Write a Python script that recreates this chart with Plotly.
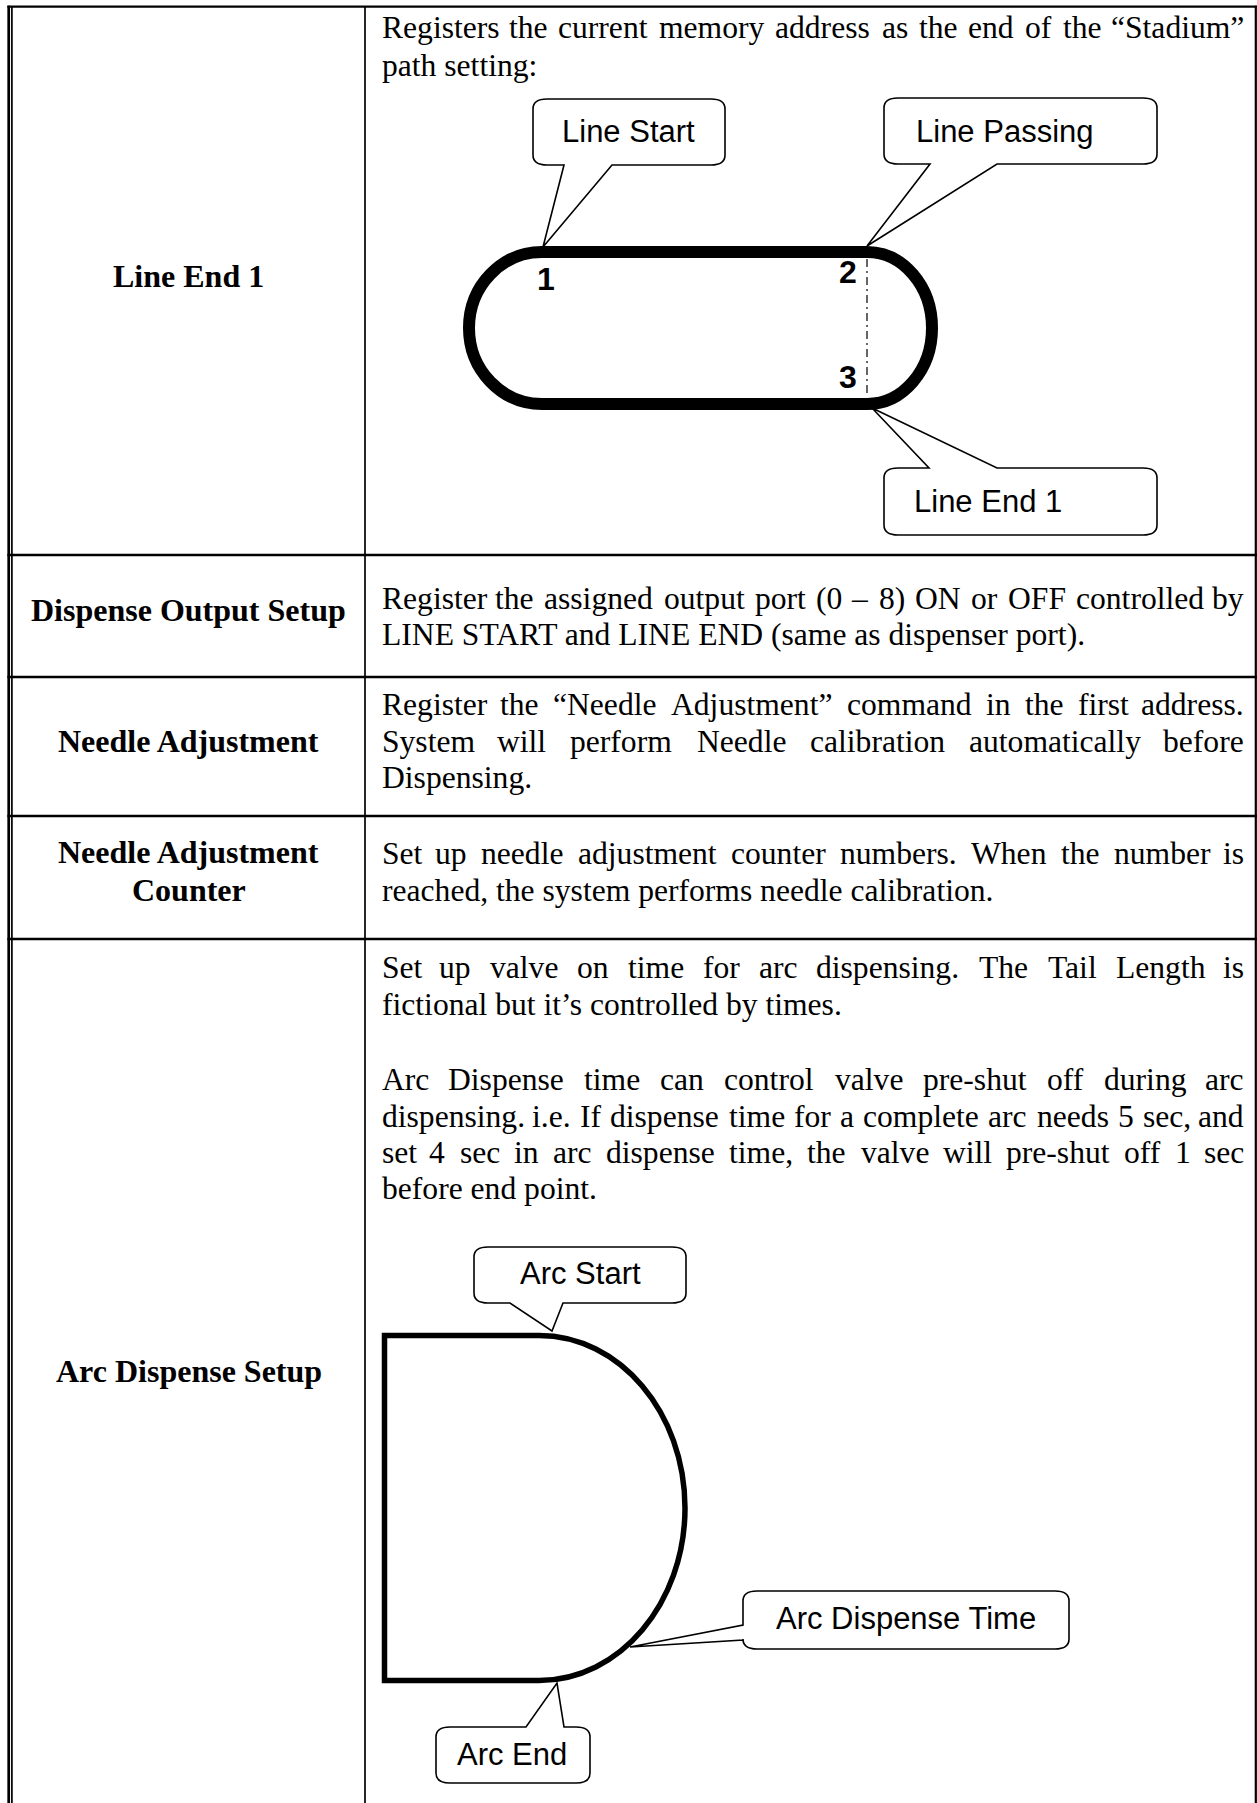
import plotly.graph_objects as go

# ---------------- content (text data) ----------------
ROW_LABELS = [["Line End 1"], ["Dispense Output Setup"], ["Needle Adjustment"],
              ["Needle Adjustment", "Counter"], ["Arc Dispense Setup"]]
ROW_TEXT = [
    ["Registers the current memory address as the end of the \u201cStadium\u201d",
     "path setting:"],
    ["Register the assigned output port (0 \u2013 8) ON or OFF controlled by",
     "LINE START and LINE END (same as dispenser port)."],
    ["Register the \u201cNeedle Adjustment\u201d command in the first address.",
     "System will perform Needle calibration automatically before",
     "Dispensing."],
    ["Set up needle adjustment counter numbers. When the number is",
     "reached, the system performs needle calibration."],
    ["Set up valve on time for arc dispensing. The Tail Length is",
     "fictional but it\u2019s controlled by times.",
     "Arc Dispense time can control valve pre-shut off during arc",
     "dispensing. i.e. If dispense time for a complete arc needs 5 sec, and",
     "set 4 sec in arc dispense time, the valve will pre-shut off 1 sec",
     "before end point."],
]
ROW_JUSTIFY = [[True, False], [True, False], [True, True, False], [True, False],
               [True, False, True, True, True, False]]
STADIUM_CALLOUTS = ["Line Start", "Line Passing", "Line End 1"]
STADIUM_POINTS = ["1", "2", "3"]
ARC_CALLOUTS = ["Arc Start", "Arc Dispense Time", "Arc End"]

# ---------------- layout constants (pixels) ----------------
W, H = 1257, 1803
ROW_EDGES = [6.7, 555, 677, 816, 939]
TEXT_BASELINES = [[38, 76], [609, 645], [715, 752, 788], [864, 901],
                  [978, 1015, 1090, 1127, 1163, 1199]]
LABEL_BASELINES = [[287], [621], [752], [863, 901], [1382]]
TXT_L, TXT_R = 380, 1246
LABEL_X = 188.5
FS = 31.6
FS_LABEL = 32
FS_CALL = 31
FS_NUM = 32
SERIF = "Liberation Serif, Times New Roman, serif"
SANS = "Liberation Sans, Arial, sans-serif"

# Times New Roman advance widths (per 1000 em)
TIMES = {' ': 250, '!': 333, '(': 333, ')': 333, ',': 250, '-': 333, '.': 250, ':': 278,
         '\u201c': 444, '\u201d': 444, '\u2019': 333, '\u2013': 500,
         'A': 722, 'B': 667, 'C': 667, 'D': 722, 'E': 611, 'F': 556, 'G': 722, 'H': 722,
         'I': 333, 'J': 389, 'K': 722, 'L': 611, 'M': 889, 'N': 722, 'O': 722, 'P': 556,
         'Q': 722, 'R': 667, 'S': 556, 'T': 611, 'U': 722, 'V': 722, 'W': 944, 'X': 722,
         'Y': 722, 'Z': 611,
         'a': 444, 'b': 500, 'c': 444, 'd': 500, 'e': 444, 'f': 333, 'g': 500, 'h': 500,
         'i': 278, 'j': 278, 'k': 500, 'l': 278, 'm': 778, 'n': 500, 'o': 500, 'p': 500,
         'q': 500, 'r': 333, 's': 389, 't': 278, 'u': 500, 'v': 500, 'w': 722, 'x': 500,
         'y': 500, 'z': 444}


def tw(s, fs=FS):
    return sum(TIMES.get(c, 500) for c in s) / 1000.0 * fs


fig = go.Figure()
annotations = []
shapes = []


def ann(x, y, text, size, family, xanchor="center"):
    annotations.append(dict(x=x, y=y, xref="x", yref="y", text=text, showarrow=False,
                            xanchor=xanchor, yanchor="middle",
                            font=dict(size=size, family=family, color="black")))


# ---------------- table grid ----------------
def hline(y, x0, x1, w):
    shapes.append(dict(type="line", xref="x", yref="y", x0=x0, x1=x1, y0=y, y1=y,
                       line=dict(color="black", width=w)))


def vline(x, y0, y1, w):
    shapes.append(dict(type="line", xref="x", yref="y", x0=x, x1=x, y0=y0, y1=y1,
                       line=dict(color="black", width=w)))


vline(8.7, ROW_EDGES[0] - 1, H, 2.7)
vline(11.9, ROW_EDGES[0], H, 1.7)
vline(365, ROW_EDGES[0], H, 1.7)
vline(1255.8, ROW_EDGES[0] - 1, H, 2.2)
hline(ROW_EDGES[0], 7.4, 1257, 2.2)
for ye in ROW_EDGES[1:]:
    hline(ye, 7.4, 1257, 2.6)

# ---------------- left column labels ----------------
for lines, bases in zip(ROW_LABELS, LABEL_BASELINES):
    for t, b in zip(lines, bases):
        ann(LABEL_X, b - 0.3375 * FS_LABEL, "<b>%s</b>" % t, FS_LABEL, SERIF)

# ---------------- description text (justified) ----------------
for lines, flags, bases in zip(ROW_TEXT, ROW_JUSTIFY, TEXT_BASELINES):
    for t, j, b in zip(lines, flags, bases):
        yc = b - 0.3375 * FS
        if not j:
            ann(TXT_L, yc, t, FS, SERIF, "left")
            continue
        words = t.split(" ")
        widths = [tw(w) for w in words]
        gap = (TXT_R - TXT_L - sum(widths)) / (len(words) - 1)
        x = TXT_L
        for i, (w, wd) in enumerate(zip(words, widths)):
            if i == 0:
                ann(TXT_L, yc, w, FS, SERIF, "left")
            elif i == len(words) - 1:
                ann(TXT_R, yc, w, FS, SERIF, "right")
            else:
                ann(x + wd / 2, yc, w, FS, SERIF, "center")
            x += wd + gap


# ---------------- callouts ----------------
def callout_path(x0, x1, y0, y1, edge, b1, b2, tip, rx=14, ry=10):
    tx, ty = tip
    p = ["M%.1f,%.1f" % (x0 + rx, y0)]
    if edge == "top":
        p += ["L%.1f,%.1f" % (b1, y0), "L%.1f,%.1f" % (tx, ty), "L%.1f,%.1f" % (b2, y0)]
    p += ["L%.1f,%.1f" % (x1 - rx, y0), "Q%.1f,%.1f %.1f,%.1f" % (x1, y0, x1, y0 + ry),
          "L%.1f,%.1f" % (x1, y1 - ry), "Q%.1f,%.1f %.1f,%.1f" % (x1, y1, x1 - rx, y1)]
    if edge == "bottom":
        p += ["L%.1f,%.1f" % (b2, y1), "L%.1f,%.1f" % (tx, ty), "L%.1f,%.1f" % (b1, y1)]
    p += ["L%.1f,%.1f" % (x0 + rx, y1), "Q%.1f,%.1f %.1f,%.1f" % (x0, y1, x0, y1 - ry)]
    if edge == "left":
        p += ["L%.1f,%.1f" % (x0, b2), "L%.1f,%.1f" % (tx, ty), "L%.1f,%.1f" % (x0, b1)]
    p += ["L%.1f,%.1f" % (x0, y0 + ry), "Q%.1f,%.1f %.1f,%.1f" % (x0, y0, x0 + rx, y0), "Z"]
    return " ".join(p)


def callout(box, edge, b1, b2, tip, label, lx, ly):
    x0, x1, y0, y1 = box
    shapes.append(dict(type="path", xref="x", yref="y",
                       path=callout_path(x0, x1, y0, y1, edge, b1, b2, tip),
                       fillcolor="white", line=dict(color="black", width=1.6)))
    ann(lx, ly, label, FS_CALL, SANS)


callout((533, 725, 99, 165), "bottom", 564, 612, (543, 247), STADIUM_CALLOUTS[0], 628, 131)
callout((884, 1157, 98, 164), "bottom", 930, 997, (867, 246), STADIUM_CALLOUTS[1], 1005, 131)
callout((884, 1157, 468, 535), "top", 929, 997, (872, 408), STADIUM_CALLOUTS[2], 988, 501)

callout((474, 686, 1247, 1303), "bottom", 510, 563, (552, 1331), ARC_CALLOUTS[0], 580, 1273)
callout((743, 1069, 1591, 1649), "left", 1625, 1640, (630, 1647), ARC_CALLOUTS[1], 906, 1618)
callout((436, 590, 1727, 1783), "top", 526, 564, (557, 1683), ARC_CALLOUTS[2], 512, 1754)

# ---------------- stadium ----------------
K = 0.5523
sx0, sx1, sy0, sy1 = 542, 867, 252, 404
sxl, sxr = 469, 932
smid = (sy0 + sy1) / 2
ry = (sy1 - sy0) / 2
stadium = ("M{a},{t} L{b},{t} C{c1},{t} {r},{m1} {r},{m} C{r},{m2} {c1},{bt} {b},{bt} "
           "L{a},{bt} C{c2},{bt} {l},{m2} {l},{m} C{l},{m1} {c2},{t} {a},{t} Z").format(
    a=sx0, b=sx1, t=sy0, bt=sy1, r=sxr, l=sxl, m=smid,
    c1=sx1 + K * (sxr - sx1), c2=sx0 - K * (sx0 - sxl),
    m1=smid - K * ry, m2=smid + K * ry)
shapes.append(dict(type="path", xref="x", yref="y", path=stadium,
                   line=dict(color="black", width=12)))
shapes.append(dict(type="line", xref="x", yref="y", x0=867, x1=867, y0=259, y1=397,
                   line=dict(color="black", width=1.2, dash="8px,4px,2px,4px")))
ann(546, 279, "<b>%s</b>" % STADIUM_POINTS[0], FS_NUM, SANS)
ann(848, 272, "<b>%s</b>" % STADIUM_POINTS[1], FS_NUM, SANS)
ann(848, 377, "<b>%s</b>" % STADIUM_POINTS[2], FS_NUM, SANS)

# ---------------- D shape (arc) ----------------
dx0, dxs, dxr = 384.5, 539, 685
dy0, dy1 = 1335.5, 1680.5
dm = (dy0 + dy1) / 2
dry = (dy1 - dy0) / 2
dshape = ("M{l},{t} L{s},{t} C{c},{t} {r},{m1} {r},{m} C{r},{m2} {c},{b} {s},{b} "
          "L{l},{b} Z").format(l=dx0, s=dxs, t=dy0, b=dy1, r=dxr, m=dm,
                                c=dxs + K * (dxr - dxs), m1=dm - K * dry, m2=dm + K * dry)
shapes.append(dict(type="path", xref="x", yref="y", path=dshape,
                   line=dict(color="black", width=5.5)))

fig.update_layout(
    width=W, height=H, margin=dict(l=0, r=0, t=0, b=0),
    paper_bgcolor="white", plot_bgcolor="white",
    xaxis=dict(range=[0, W], visible=False, fixedrange=True),
    yaxis=dict(range=[H, 0], visible=False, fixedrange=True),
    showlegend=False, annotations=annotations, shapes=shapes,
)

fig.write_html("out.html", config={"displayModeBar": False},
               post_script="document.body.style.margin='0';document.body.style.overflow='hidden';")
